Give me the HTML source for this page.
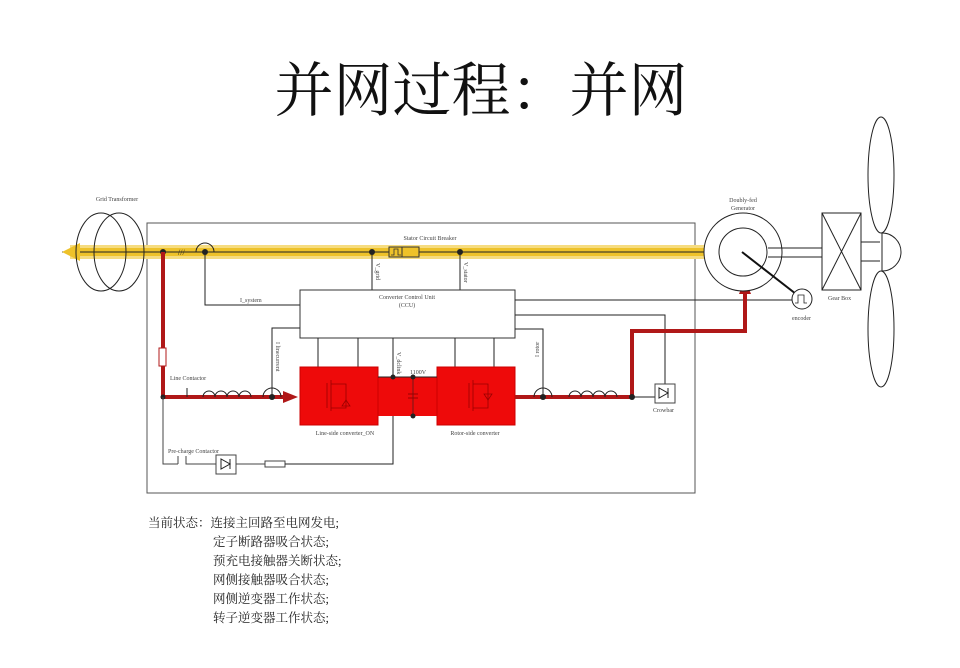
<!DOCTYPE html>
<html><head><meta charset="utf-8"><style>
body{margin:0;background:#fff;width:960px;height:668px;overflow:hidden}
svg{display:block}
.t{font-family:"Liberation Serif",serif;font-size:6px;fill:#444}
.cn{font-family:"Liberation Serif","Noto Serif CJK SC",serif;font-size:12.5px;fill:#222}
</style></head><body>
<svg width="960" height="668" viewBox="0 0 960 668" xmlns="http://www.w3.org/2000/svg">
<text x="481" y="111" text-anchor="middle" font-family="'Noto Serif CJK SC',serif" font-size="59" fill="#111">并网过程：并网</text>
<rect x="147" y="223" width="548" height="270" fill="none" stroke="#555" stroke-width="1"/>
<line x1="70" y1="252" x2="706" y2="252" stroke="#f6dc80" stroke-width="14"/>
<line x1="70" y1="252" x2="706" y2="252" stroke="#eec22a" stroke-width="8"/>
<line x1="62" y1="252" x2="706" y2="252" stroke="#222" stroke-width="1"/>
<polygon points="62,252 80,243 80,261" fill="#eec22a"/>
<ellipse cx="101" cy="252" rx="25" ry="39" fill="none" stroke="#222"/>
<ellipse cx="119" cy="252" rx="25" ry="39" fill="none" stroke="#222"/>
<text class="t" x="117" y="201" text-anchor="middle">Grid Transformer</text>
<circle cx="163" cy="252" r="3" fill="#222"/>
<text x="178" y="255" font-size="8" fill="#222">///</text>
<path d="M196,252 A9,9 0 0 1 214,252" fill="none" stroke="#222"/>
<circle cx="205" cy="252" r="3" fill="#222"/>
<polyline points="205,252 205,305 300,305" fill="none" stroke="#222"/>
<text class="t" x="240" y="302">I_system</text>
<rect x="389" y="247" width="30" height="10" fill="#eec22a" stroke="#333"/>
<line x1="402" y1="247" x2="402" y2="257" stroke="#333"/>
<path d="M391,255 h3 v-6 h4 v6 h3" fill="none" stroke="#333" stroke-width="0.8"/>
<text class="t" x="430" y="240" text-anchor="middle">Stator Circuit Breaker</text>
<circle cx="372" cy="252" r="3" fill="#222"/>
<circle cx="460" cy="252" r="3" fill="#222"/>
<line x1="372" y1="252" x2="372" y2="290" stroke="#222"/>
<line x1="460" y1="252" x2="460" y2="290" stroke="#222"/>
<text class="t" transform="translate(376,263) rotate(90)">V_grid</text>
<text class="t" transform="translate(464,262) rotate(90)">V_stator</text>
<rect x="300" y="290" width="215" height="48" fill="#fff" stroke="#333"/>
<text class="t" x="407" y="299" text-anchor="middle">Converter Control Unit</text>
<text class="t" x="407" y="307" text-anchor="middle">(CCU)</text>
<polyline points="272,397 272,328 300,328" fill="none" stroke="#222"/>
<text class="t" transform="translate(276,342) rotate(90)">I linecurrent</text>
<line x1="318" y1="338" x2="318" y2="367" stroke="#222"/>
<line x1="358" y1="338" x2="358" y2="367" stroke="#222"/>
<line x1="393" y1="338" x2="393" y2="377" stroke="#222"/>
<text class="t" transform="translate(397,352) rotate(90)">V_dclink</text>
<line x1="455" y1="338" x2="455" y2="367" stroke="#222"/>
<line x1="494" y1="338" x2="494" y2="367" stroke="#222"/>
<line x1="515" y1="300" x2="795" y2="300" stroke="#222"/>
<polyline points="515,315 665,315 665,384" fill="none" stroke="#222"/>
<polyline points="515,329 543,329 543,397" fill="none" stroke="#222"/>
<text class="t" transform="translate(539,357) rotate(-90)">I rotor</text>
<polyline points="163,252 163,397 285,397" fill="none" stroke="#b01818" stroke-width="4"/>
<polygon points="283,391 298,397 283,403" fill="#b01818"/>
<rect x="159" y="348" width="7" height="18" fill="#fff" stroke="#b01818"/>
<circle cx="163" cy="397" r="2.5" fill="#222"/>
<text class="t" x="170" y="380">Line Contactor</text>
<line x1="187" y1="397" x2="187" y2="388" stroke="#222"/>
<path d="M203,397 a6,6 0 0 1 12,0 a6,6 0 0 1 12,0 a6,6 0 0 1 12,0 a6,6 0 0 1 12,0" fill="none" stroke="#222"/>
<path d="M263,397 a9,9 0 0 1 18,0" fill="none" stroke="#222"/>
<circle cx="272" cy="397" r="3" fill="#222"/>
<rect x="378" y="377" width="59" height="39" fill="#ee0a0a"/>
<rect x="300" y="367" width="78" height="58" fill="#ee0a0a" stroke="#c00"/>
<rect x="437" y="367" width="78" height="58" fill="#ee0a0a" stroke="#c00"/>
<line x1="378" y1="377" x2="437" y2="377" stroke="#222"/>
<line x1="413" y1="377" x2="413" y2="416" stroke="#222" stroke-width=".6"/>
<line x1="408" y1="394" x2="418" y2="394" stroke="#900"/><line x1="408" y1="398" x2="418" y2="398" stroke="#900"/>
<circle cx="393" cy="377" r="2.5" fill="#222"/><circle cx="413" cy="377" r="2.5" fill="#222"/><circle cx="413" cy="416" r="2.5" fill="#222"/>
<text class="t" x="410" y="374">1100V</text>
<g stroke="#900" fill="none" stroke-width=".8"><path d="M327,383 v25 M331,380 v31 M331,384 h15 v24 h-15"/><path d="M469,383 v25 M473,380 v31 M473,384 h15 v24 h-15"/><polygon points="346,400 342,406 350,406"/><polygon points="488,400 484,394 492,394"/></g>
<text class="t" x="345" y="435" text-anchor="middle">Line-side converter_ON</text>
<text class="t" x="475" y="435" text-anchor="middle">Rotor-side converter</text>
<polyline points="163,397 163,464 178,464" fill="none" stroke="#444"/>
<line x1="178" y1="464" x2="178" y2="456" stroke="#444"/>
<polyline points="186,456 186,464 217,464" fill="none" stroke="#444"/>
<text class="t" x="168" y="453">Pre-charge Contactor</text>
<rect x="216" y="455" width="20" height="19" fill="#fff" stroke="#444"/>
<polygon points="221,459 221,469 230,464" fill="none" stroke="#222"/><line x1="230" y1="459" x2="230" y2="469" stroke="#222"/>
<line x1="236" y1="464" x2="265" y2="464" stroke="#444"/>
<rect x="265" y="461" width="20" height="6" fill="#fff" stroke="#444"/>
<polyline points="285,464 393,464 393,416" fill="none" stroke="#222"/>
<polyline points="515,397 632,397 632,331 745,331 745,292" fill="none" stroke="#b01818" stroke-width="4"/>
<polygon points="739,294 745,279 751,294" fill="#b01818"/>
<path d="M534,397 a9,9 0 0 1 18,0" fill="none" stroke="#222"/>
<circle cx="543" cy="397" r="3" fill="#222"/>
<path d="M569,397 a6,6 0 0 1 12,0 a6,6 0 0 1 12,0 a6,6 0 0 1 12,0 a6,6 0 0 1 12,0" fill="none" stroke="#222"/>
<circle cx="632" cy="397" r="3" fill="#222"/>
<line x1="632" y1="397" x2="655" y2="397" stroke="#222"/>
<rect x="655" y="384" width="20" height="19" fill="#fff" stroke="#444"/>
<polygon points="659,388 659,398 668,393" fill="none" stroke="#222"/><line x1="668" y1="388" x2="668" y2="398" stroke="#222"/>
<text class="t" x="653" y="412">Crowbar</text>
<circle cx="743" cy="252" r="39" fill="#fff" stroke="#222"/>
<circle cx="743" cy="252" r="24" fill="#fff" stroke="#222"/>
<text class="t" x="743" y="202" text-anchor="middle">Doubly-fed</text>
<text class="t" x="743" y="210" text-anchor="middle">Generator</text>
<line x1="768" y1="248" x2="822" y2="248" stroke="#222"/><line x1="768" y1="257" x2="822" y2="257" stroke="#222"/>
<line x1="742" y1="252" x2="796" y2="294" stroke="#111" stroke-width="2"/>
<circle cx="802" cy="299" r="10" fill="#fff" stroke="#222"/>
<path d="M795,303 h3 v-8 h6 v8 h3" fill="none" stroke="#222" stroke-width=".8"/>
<text class="t" x="792" y="320">encoder</text>
<rect x="822" y="213" width="39" height="77" fill="#fff" stroke="#222"/>
<line x1="822" y1="213" x2="861" y2="290" stroke="#222"/><line x1="861" y1="213" x2="822" y2="290" stroke="#222"/>
<text class="t" x="828" y="300">Gear Box</text>
<line x1="861" y1="242" x2="880" y2="242" stroke="#222"/><line x1="861" y1="261" x2="880" y2="261" stroke="#222"/>
<path d="M882,233 a19,19 0 0 1 0,38" fill="#fff" stroke="#222"/>
<ellipse cx="881" cy="175" rx="13" ry="58" fill="#fff" stroke="#222"/>
<ellipse cx="881" cy="329" rx="13" ry="58" fill="#fff" stroke="#222"/>
<line x1="882" y1="233" x2="882" y2="271" stroke="#222"/>
<g class="cn">
<text x="148" y="527">当前状态：连接主回路至电网发电;</text>
<text x="213" y="546">定子断路器吸合状态;</text>
<text x="213" y="565">预充电接触器关断状态;</text>
<text x="213" y="584">网侧接触器吸合状态;</text>
<text x="213" y="603">网侧逆变器工作状态;</text>
<text x="213" y="622">转子逆变器工作状态;</text>
</g>
</svg>
</body></html>
